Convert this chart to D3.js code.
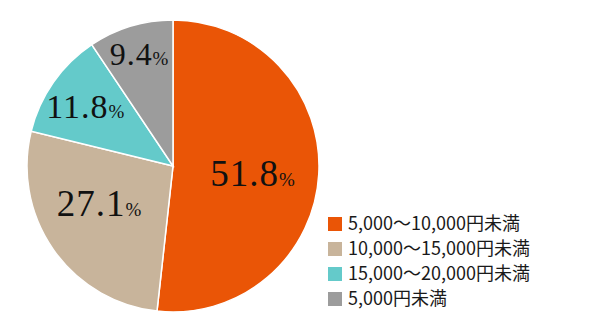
<!DOCTYPE html>
<html>
<head>
<meta charset="utf-8">
<script src="https://cdn.jsdelivr.net/npm/d3@7"></script>
<style>
  body { margin: 0; background: #fff; }
  svg { display: block; }
</style>
</head>
<body>
<script>
// data
const categories = ["5,000〜10,000円未満", "10,000〜15,000円未満", "15,000〜20,000円未満", "5,000円未満"];
const shares = [51.8, 27.1, 11.8, 9.4];
const sliceColors = ["#ea5506", "#c8b49b", "#64caca", "#9c9c9c"];

// layout
const width = 600;
const height = 317;
const cx = 173;
const cy = 166;
const radius = 146;
// label nudges from the arc centroid, per slice
const labelNudge = [[-2, 4], [-7, -9], [8, 8], [0, 0]];

const svg = d3.select("body").append("svg")
  .attr("width", width)
  .attr("height", height);

const color = d3.scaleOrdinal().domain(categories).range(sliceColors);

const pie = d3.pie().sort(null).value((d, i) => shares[i]);
const arcs = pie(categories);

const arc = d3.arc().innerRadius(0).outerRadius(radius);

const g = svg.append("g").attr("transform", `translate(${cx},${cy})`);

g.selectAll("path")
  .data(arcs)
  .enter()
  .append("path")
  .attr("d", arc)
  .attr("fill", (d) => color(d.data))
  .attr("stroke", "#fff")
  .attr("stroke-width", 1.5);

// labels: big slices closer to the centre
const labelPos = (d) => {
  const r = d.value > 20 ? radius * 0.56 : radius * 0.8;
  const [x, y] = d3.arc().innerRadius(r).outerRadius(r).centroid(d);
  const [nx, ny] = labelNudge[d.index];
  return [x + nx, y + ny];
};

const labels = g.selectAll("text.lbl")
  .data(arcs)
  .enter()
  .append("text")
  .attr("class", "lbl")
  .attr("transform", (d) => `translate(${labelPos(d)})`)
  .attr("text-anchor", "middle")
  .attr("dy", (d) => (d.value > 20 ? 12 : 11))
  .style("font-family", "'Liberation Serif', 'DejaVu Serif', serif")
  .style("fill", "#111");

labels.append("tspan")
  .style("font-size", (d) => (d.value > 20 ? "37px" : d.value > 10 ? "34px" : "32px"))
  .style("letter-spacing", "1px")
  .text((d) => d.value.toFixed(1));

labels.append("tspan")
  .style("font-size", "19px")
  .text("%");

// legend
const legend = svg.append("g").attr("transform", "translate(328,217)");
const rowH = 25;

const items = legend.selectAll("g")
  .data(categories)
  .enter()
  .append("g")
  .attr("transform", (d, i) => `translate(0,${i * rowH})`);

items.append("rect")
  .attr("width", 14)
  .attr("height", 14)
  .attr("fill", (d) => color(d));

items.append("text")
  .attr("x", 20)
  .attr("y", 7)
  .attr("dy", "0.36em")
  .style("font-family", "'Noto Sans CJK JP', 'Noto Sans', sans-serif")
  .style("font-size", "18px")
  .style("fill", "#1a1a1a")
  .text((d) => d);
</script>
</body>
</html>
